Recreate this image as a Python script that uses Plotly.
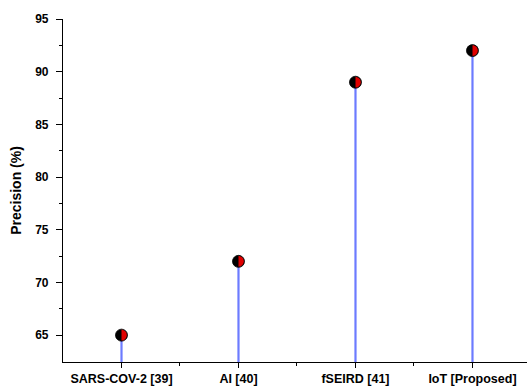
import plotly.graph_objects as go

categories = ["SARS-COV-2 [39]", "AI [40]", "fSEIRD [41]", "IoT [Proposed]"]
precision = [65, 72, 89, 92]
y_ticks = [65, 70, 75, 80, 85, 90, 95]
y_minor_ticks = [67.5, 72.5, 77.5, 82.5, 87.5, 92.5]

Y_MIN, Y_MAX = 62.45, 95
xs = list(range(len(categories)))

fig = go.Figure()

# stems
sx, sy = [], []
for x, v in zip(xs, precision):
    sx += [x, x, None]
    sy += [Y_MIN, v, None]
fig.add_trace(go.Scatter(x=sx, y=sy, mode="lines",
                         line=dict(color="#6C7BFF", width=2.2),
                         hoverinfo="skip", showlegend=False, cliponaxis=False))

# markers (black base)
fig.add_trace(go.Scatter(x=xs, y=precision, mode="markers",
                         marker=dict(color="black", size=12,
                                     line=dict(color="black", width=0.8)),
                         showlegend=False, cliponaxis=False))

# red right halves
r = 5.3
k = 0.5523 * r
path = (f"M 0,{r} L 0,{-r} C {k},{-r} {r},{-k} {r},0 "
        f"C {r},{k} {k},{r} 0,{r} Z")
for x, v in zip(xs, precision):
    fig.add_shape(type="path", xref="x", yref="y",
                  xsizemode="pixel", ysizemode="pixel",
                  xanchor=x, yanchor=v, path=path,
                  fillcolor="#E00000", line=dict(width=0), layer="above")

font_family = "Liberation Sans, Arial, sans-serif"

fig.update_layout(
    width=527, height=387,
    margin=dict(l=63, r=0, t=19, b=25),
    paper_bgcolor="white", plot_bgcolor="white",
    font=dict(family=font_family, color="black"),
    xaxis=dict(
        range=[-0.5, 3.466], tickmode="array", tickvals=xs,
        ticktext=[f"<b>{c}</b>" for c in categories],
        showgrid=False, zeroline=False, automargin=False,
        showline=True, linecolor="black", linewidth=1.2,
        ticks="outside", ticklen=5, tickwidth=1.2, tickcolor="black",
        ticklabelstandoff=0,
        tickfont=dict(size=12.5, family=font_family, color="black"),
        minor=dict(tickmode="array", tickvals=[0.5, 1.5, 2.5],
                   ticks="outside", ticklen=3, tickwidth=1, tickcolor="black"),
    ),
    yaxis=dict(
        range=[Y_MIN, Y_MAX], tickmode="array", tickvals=y_ticks,
        ticktext=[f"<b>{t}</b>" for t in y_ticks],
        showgrid=False, zeroline=False, automargin=False,
        showline=True, linecolor="black", linewidth=1.2,
        ticks="outside", ticklen=6, tickwidth=1.2, tickcolor="black",
        ticklabelstandoff=5,
        tickfont=dict(size=12, family=font_family, color="black"),
        minor=dict(tickmode="array", tickvals=y_minor_ticks,
                   ticks="outside", ticklen=3, tickwidth=1, tickcolor="black"),
        title=dict(text="<b>Precision (%)</b>", standoff=10,
                   font=dict(size=14, family=font_family, color="black")),
    ),
)

fig.write_html("out.html",
               config={"displayModeBar": False},
               post_script="document.body.style.margin='0';"
                           "document.body.style.overflow='hidden';")
